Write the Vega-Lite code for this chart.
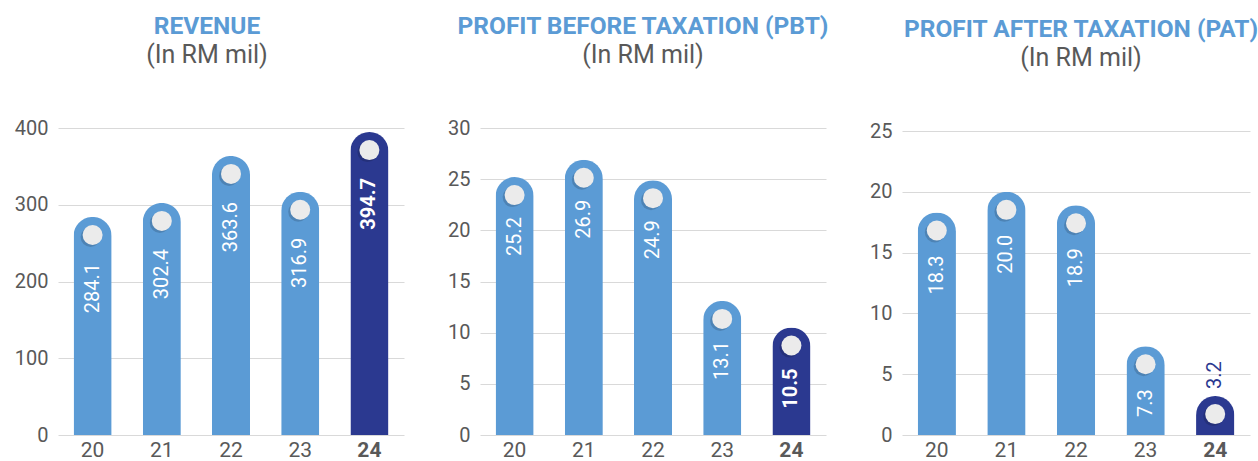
{
  "$schema": "https://vega.github.io/schema/vega-lite/v6.json",
  "background": "white",
  "padding": {"left": 14, "top": 13, "right": 5, "bottom": 0},
  "bounds": "flush",
  "spacing": 76,
  "config": {
    "view": {"stroke": null},
    "axis": {"labelFont": "Roboto", "labelFontSize": 20, "labelColor": "#595959", "ticks": false, "domain": false, "gridColor": "#d9d9d9", "gridWidth": 1, "title": null},
    "title": {"font": "Roboto", "fontSize": 24.5, "fontWeight": "bold", "color": "#5b9bd5", "subtitleFont": "Roboto", "subtitleFontSize": 25, "subtitleColor": "#595959", "subtitlePadding": 4, "anchor": "middle", "frame": "group", "offset": 49}
  },
  "datasets": {
    "revenue": [
      {"year": "20", "value": 284.1},
      {"year": "21", "value": 302.4},
      {"year": "22", "value": 363.6},
      {"year": "23", "value": 316.9},
      {"year": "24", "value": 394.7}
    ],
    "pbt": [
      {"year": "20", "value": 25.2},
      {"year": "21", "value": 26.9},
      {"year": "22", "value": 24.9},
      {"year": "23", "value": 13.1},
      {"year": "24", "value": 10.5}
    ],
    "pat": [
      {"year": "20", "value": 18.3},
      {"year": "21", "value": 20.0},
      {"year": "22", "value": 18.9},
      {"year": "23", "value": 7.3},
      {"year": "24", "value": 3.2}
    ]
  },
  "hconcat": [
    {
      "width": 346, "height": 307,
      "data": {"name": "revenue"},
      "title": {"text": "REVENUE", "subtitle": "(In RM mil)", "dx": -24},
      "encoding": {
        "x": {"field": "year", "type": "nominal", "sort": null, "scale": {"paddingInner": 0.45, "paddingOuter": 0.225},
              "axis": {"labelAngle": 0, "grid": false, "labelFontSize": 21, "labelPadding": 4, "labelFontWeight": {"condition": {"test": "datum.value === '24'", "value": "bold"}, "value": "normal"}}},
        "y": {"field": "value", "type": "quantitative", "scale": {"domain": [0, 400], "nice": false}, "axis": {"values": [0, 100, 200, 300, 400], "labelPadding": 10, "grid": true}}
      },
      "layer": [
        {"mark": {"type": "bar", "cornerRadiusTopLeft": 19, "cornerRadiusTopRight": 19}, "encoding": {"color": {"condition": {"test": "datum.year === '24'", "value": "#2b3990"}, "value": "#5b9bd5"}}},
        {"mark": {"type": "point", "shape": "circle", "filled": true, "size": 400, "color": "#000000", "opacity": 0.15, "xOffset": -2, "yOffset": 20}},
        {"mark": {"type": "point", "shape": "circle", "filled": true, "size": 400, "color": "#ebebeb", "opacity": 1, "yOffset": 18}},
        {"transform": [{"filter": "datum.year !== '24'"}], "mark": {"type": "text", "angle": 270, "align": "right", "baseline": "middle", "yOffset": 46, "color": "white", "font": "Roboto", "fontSize": 20}, "encoding": {"text": {"field": "value", "type": "quantitative", "format": ".1f"}}},
        {"transform": [{"filter": "datum.year === '24'"}], "mark": {"type": "text", "angle": 270, "align": "right", "baseline": "middle", "yOffset": 46, "color": "white", "font": "Roboto", "fontSize": 20, "fontWeight": "bold"}, "encoding": {"text": {"field": "value", "type": "quantitative", "format": ".1f"}}}
      ]
    },
    {
      "width": 346, "height": 307,
      "data": {"name": "pbt"},
      "title": {"text": "PROFIT BEFORE TAXATION (PBT)", "subtitle": "(In RM mil)", "dx": -10},
      "encoding": {
        "x": {"field": "year", "type": "nominal", "sort": null, "scale": {"paddingInner": 0.45, "paddingOuter": 0.225},
              "axis": {"labelAngle": 0, "grid": false, "labelFontSize": 21, "labelPadding": 4, "labelFontWeight": {"condition": {"test": "datum.value === '24'", "value": "bold"}, "value": "normal"}}},
        "y": {"field": "value", "type": "quantitative", "scale": {"domain": [0, 30], "nice": false}, "axis": {"values": [0, 5, 10, 15, 20, 25, 30], "labelPadding": 10, "grid": true}}
      },
      "layer": [
        {"mark": {"type": "bar", "cornerRadiusTopLeft": 19, "cornerRadiusTopRight": 19}, "encoding": {"color": {"condition": {"test": "datum.year === '24'", "value": "#2b3990"}, "value": "#5b9bd5"}}},
        {"mark": {"type": "point", "shape": "circle", "filled": true, "size": 400, "color": "#000000", "opacity": 0.15, "xOffset": -2, "yOffset": 20}},
        {"mark": {"type": "point", "shape": "circle", "filled": true, "size": 400, "color": "#ebebeb", "opacity": 1, "yOffset": 18}},
        {"transform": [{"filter": "datum.year !== '24'"}], "mark": {"type": "text", "angle": 270, "align": "right", "baseline": "middle", "yOffset": 40, "color": "white", "font": "Roboto", "fontSize": 20}, "encoding": {"text": {"field": "value", "type": "quantitative", "format": ".1f"}}},
        {"transform": [{"filter": "datum.year === '24'"}], "mark": {"type": "text", "angle": 270, "align": "right", "baseline": "middle", "yOffset": 41, "color": "white", "font": "Roboto", "fontSize": 20, "fontWeight": "bold"}, "encoding": {"text": {"field": "value", "type": "quantitative", "format": ".1f"}}}
      ]
    },
    {
      "width": 348, "height": 307,
      "data": {"name": "pat"},
      "title": {"text": "PROFIT AFTER TAXATION (PAT)", "subtitle": "(In RM mil)", "dx": 5},
      "encoding": {
        "x": {"field": "year", "type": "nominal", "sort": null, "scale": {"paddingInner": 0.45, "paddingOuter": 0.225},
              "axis": {"labelAngle": 0, "grid": false, "labelFontSize": 21, "labelPadding": 4, "labelFontWeight": {"condition": {"test": "datum.value === '24'", "value": "bold"}, "value": "normal"}}},
        "y": {"field": "value", "type": "quantitative", "scale": {"domain": [0, 25.25], "nice": false}, "axis": {"values": [0, 5, 10, 15, 20, 25], "labelPadding": 10, "grid": true}}
      },
      "layer": [
        {"mark": {"type": "bar", "cornerRadiusTopLeft": 19, "cornerRadiusTopRight": 19}, "encoding": {"color": {"condition": {"test": "datum.year === '24'", "value": "#2b3990"}, "value": "#5b9bd5"}}},
        {"mark": {"type": "point", "shape": "circle", "filled": true, "size": 400, "color": "#000000", "opacity": 0.15, "xOffset": -2, "yOffset": 20}},
        {"mark": {"type": "point", "shape": "circle", "filled": true, "size": 400, "color": "#ebebeb", "opacity": 1, "yOffset": 18}},
        {"transform": [{"filter": "datum.value >= 5"}], "mark": {"type": "text", "angle": 270, "align": "right", "baseline": "middle", "yOffset": 43, "color": "white", "font": "Roboto", "fontSize": 20}, "encoding": {"text": {"field": "value", "type": "quantitative", "format": ".1f"}}},
        {"transform": [{"filter": "datum.value < 5"}], "mark": {"type": "text", "angle": 270, "align": "left", "baseline": "middle", "yOffset": -7, "color": "#2b3990", "font": "Roboto", "fontSize": 20}, "encoding": {"text": {"field": "value", "type": "quantitative", "format": ".1f"}}}
      ]
    }
  ]
}
